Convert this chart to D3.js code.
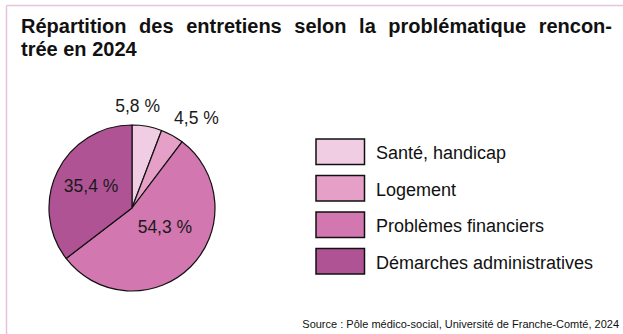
<!DOCTYPE html>
<html>
<head>
<meta charset="utf-8">
<script src="https://cdn.jsdelivr.net/npm/d3@7"></script>
<style>
  html, body { margin: 0; padding: 0; background: #fff; }
  svg { display: block; font-family: "Liberation Sans", Arial, sans-serif; }
</style>
</head>
<body>
<svg id="chart" width="623" height="334"></svg>
<script>
// Categories, shares (%) and slice colours
const categories = ["Santé, handicap", "Logement", "Problèmes financiers", "Démarches administratives"];
const values = [5.8, 4.5, 54.3, 35.4];
const valueLabels = ["5,8 %", "4,5 %", "54,3 %", "35,4 %"];
const colors = ["#f0cde3", "#e6a0c8", "#d277b0", "#b05395"];
const titleLines = ["Répartition des entretiens selon la problématique rencon-", "trée en 2024"];
const sourceText = "Source : Pôle médico-social, Université de Franche-Comté, 2024";

const svg = d3.select("#chart");

// Frame lines (top and left)
svg.append("line").attr("x1", 6.5).attr("x2", 623).attr("y1", 5.5).attr("y2", 5.5)
  .attr("stroke", "#e6c3df").attr("stroke-width", 1.5);
svg.append("line").attr("x1", 6.5).attr("x2", 6.5).attr("y1", 5.5).attr("y2", 334)
  .attr("stroke", "#e6c3df").attr("stroke-width", 1.5);

// Title, first line justified through word spacing
const titleLeft = 21, titleRight = 612;
const t1 = svg.append("text").attr("x", titleLeft).attr("y", 33)
  .attr("font-size", 20).attr("font-weight", "bold").attr("fill", "#111")
  .text(titleLines[0]);
const natural = t1.node().getBBox().width;
const spaces = titleLines[0].split(" ").length - 1;
t1.attr("word-spacing", Math.max(0, (titleRight - titleLeft - natural) / spaces));
svg.append("text").attr("x", titleLeft).attr("y", 56)
  .attr("font-size", 20).attr("font-weight", "bold").attr("fill", "#111")
  .text(titleLines[1]);

// Pie
const cx = 132, cy = 208, r = 83;
const pie = d3.pie().sort(null).value(d => d)(values);
const arc = d3.arc().innerRadius(0).outerRadius(r);
const g = svg.append("g").attr("transform", `translate(${cx},${cy})`);
g.selectAll("path").data(pie).join("path")
  .attr("d", arc)
  .attr("fill", (d, i) => colors[i])
  .attr("stroke", "#111").attr("stroke-width", 1.2).attr("stroke-linejoin", "round");

// Value labels: small slices outside, large ones inside
const outer = d3.arc().innerRadius(r + 14).outerRadius(r + 14);
const inner = d3.arc().innerRadius(r * 0.55).outerRadius(r * 0.55);
const labelOffsets = [[-12, -6.5], [17.5, -5], [0.5, -13], [0, -2]];
g.selectAll("text.val").data(pie).join("text")
  .attr("class", "val")
  .attr("transform", (d, i) => {
    const p = (d.value < 10 ? outer : inner).centroid(d);
    return `translate(${p[0] + labelOffsets[i][0]},${p[1] + labelOffsets[i][1]})`;
  })
  .attr("text-anchor", "middle").attr("dy", "0.35em")
  .attr("font-size", 17.5).attr("fill", "#1a1a1a")
  .text((d, i) => valueLabels[i]);

// Legend
const ly = d3.scaleBand().domain(categories).range([139, 285]).paddingInner(0);
const leg = svg.append("g");
categories.forEach((c, i) => {
  const y = ly(c);
  leg.append("rect").attr("x", 316).attr("y", y).attr("width", 48.5).attr("height", 25.5)
    .attr("fill", colors[i]).attr("stroke", "#111").attr("stroke-width", 1.5);
  leg.append("text").attr("x", 376).attr("y", y + 20)
    .attr("font-size", 18).attr("fill", "#111").text(c);
});

// Source
svg.append("text").attr("x", 619).attr("y", 328).attr("text-anchor", "end")
  .attr("font-size", 11).attr("fill", "#111").text(sourceText);
</script>
</body>
</html>
